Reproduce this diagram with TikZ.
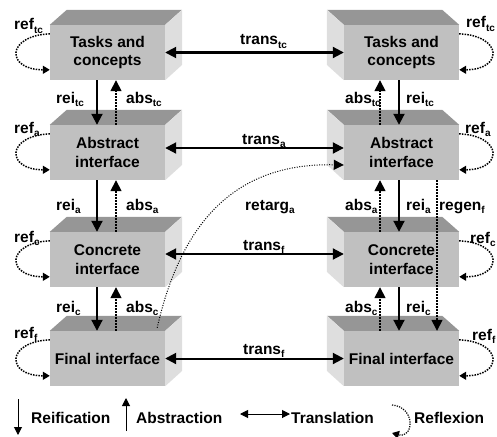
\documentclass[tikz,border=0pt]{standalone}
\usepackage{fontspec}
\setmainfont{Liberation Sans}
\usetikzlibrary{arrows.meta}
\definecolor{frontc}{HTML}{C0C0C0}
\definecolor{topc}{HTML}{969696}
\definecolor{sidec}{HTML}{DEDEDE}
\newcommand\lsub[1]{\raisebox{-3.5pt}{\fontsize{10}{10}\selectfont #1}}
\newcommand\lblock[4]{\node[face] (#1) at (#2,#3) {#4};
 \fill[topc] (#1.north west) -- ++(17pt,15pt) -- ++(115pt,0pt) -- (#1.north east) -- cycle;
 \fill[sidec] (#1.north east) -- ++(17pt,15pt) -- ++(0pt,-55pt) -- (#1.south east) -- cycle;}
\newcommand\rblock[4]{\node[face] (#1) at (#2,#3) {#4};
 \fill[topc] (#1.north east) -- ++(-17pt,15pt) -- ++(-115pt,0pt) -- (#1.north west) -- cycle;
 \fill[sidec] (#1.north west) -- ++(-17pt,15pt) -- ++(0pt,-55pt) -- (#1.south west) -- cycle;}
\begin{document}
\begin{tikzpicture}[x=1pt,y=-1pt,
  font=\fontsize{15.5}{18.5}\selectfont\bfseries,
  face/.style={fill=frontc, minimum width=115pt, minimum height=55pt, inner sep=0pt, align=center},
  lbl/.style={anchor=base west, inner sep=0pt},
  rei/.style={line width=2pt, -{Triangle[length=11pt,width=11pt]}},
  absr/.style={line width=1.5pt, dash pattern=on 1.5pt off 1.5pt, -{Triangle[length=11pt,width=11pt]}},
  tr/.style={line width=2pt, {Triangle[length=11pt,width=11pt]}-{Triangle[length=11pt,width=11pt]}},
  loopr/.style={line width=1.5pt, dash pattern=on 1.5pt off 1.2pt, -{Triangle[length=7pt,width=8pt]}},
  retarg/.style={line width=1pt, dash pattern=on 1pt off 1.5pt, -{Triangle[length=10pt,width=10pt]}},
  leg/.style={line width=1pt, -{Triangle[length=8pt,width=8pt]}},
  legd/.style={line width=1pt, {Triangle[length=8pt,width=8pt]}-{Triangle[length=8pt,width=8pt]}},
  legl/.style={line width=1.2pt, dash pattern=on 1.2pt off 1.2pt, -{Triangle[length=7pt,width=8pt]}}]
\useasboundingbox (0,0) rectangle (497,436);
% blocks
\lblock{L1}{107.5}{52.5}{Tasks and\\concepts}
\lblock{L2}{107.5}{152.5}{Abstract\\interface}
\lblock{L3}{107.5}{259.5}{Concrete\\interface}
\lblock{L4}{107.5}{358.5}{Final interface}
\rblock{R1}{401.5}{52.5}{Tasks and\\concepts}
\rblock{R2}{401.5}{152.5}{Abstract\\interface}
\rblock{R3}{401.5}{259.5}{Concrete\\interface}
\rblock{R4}{401.5}{358.5}{Final interface}
% left vertical arrows
\draw[rei] ([xshift=-10.5pt]L1.south) -- ([xshift=-10.5pt]L2.north);
\draw[absr] ([xshift=8.5pt]L2.north) -- ([xshift=8.5pt]L1.south);
\draw[rei] ([xshift=-10.5pt]L2.south) -- ([xshift=-10.5pt]L3.north);
\draw[absr] ([xshift=8.5pt]L3.north) -- ([xshift=8.5pt]L2.south);
\draw[rei] ([xshift=-10.5pt]L3.south) -- ([xshift=-10.5pt]L4.north);
\draw[absr] ([xshift=8.5pt]L4.north) -- ([xshift=8.5pt]L3.south);
% right vertical arrows
\draw[rei] ([xshift=-2.5pt]R1.south) -- ([xshift=-2.5pt]R2.north);
\draw[absr] ([xshift=-21.5pt]R2.north) -- ([xshift=-21.5pt]R1.south);
\draw[rei] ([xshift=-2.5pt]R2.south) -- ([xshift=-2.5pt]R3.north);
\draw[absr] ([xshift=-21.5pt]R3.north) -- ([xshift=-21.5pt]R2.south);
\draw[rei] ([xshift=-2.5pt]R3.south) -- ([xshift=-2.5pt]R4.north);
\draw[absr] ([xshift=-21.5pt]R4.north) -- ([xshift=-21.5pt]R3.south);
\draw[absr] ([xshift=35.5pt]R2.south) -- ([xshift=35.5pt]R4.north);
% horizontal arrows
\draw[tr] (L1.east) -- (R1.west);
\draw[tr] ([yshift=4.5pt]L2.east) -- ([yshift=4.5pt]R2.west);
\draw[tr] ([yshift=5.5pt]L3.east) -- ([yshift=5.5pt]R3.west);
\draw[tr] (L4.east) -- (R4.west);
% retargeting
\draw[retarg] ([xshift=-8pt,yshift=3pt]L4.north east) .. controls (185,205) and (250,163) .. ([yshift=-12.5pt]R2.west);
% reflexion loops
\foreach \n in {L1,L2,L3,L4}
  \draw[loopr] ([yshift=-9pt]\n.north west) .. controls +(-44pt,-2pt) and +(-44pt,0pt) .. ([yshift=-45pt]\n.north west);
\foreach \n in {R1,R2,R3,R4}
  \draw[loopr] ([yshift=-9pt]\n.north east) .. controls +(44pt,-2pt) and +(44pt,0pt) .. ([yshift=-45pt]\n.north east);
% labels left
\node[lbl] (t1) at (14,30) {ref\lsub{tc}};
\node[lbl] (t2) at (14,133) {ref\lsub{a}};
\node[lbl] (t3) at (14,242) {ref\lsub{c}};
\node[lbl] (t4) at (14,338) {ref\lsub{f}};
\node[lbl] (t5) at (56,103) {rei\lsub{tc}};
\node[lbl] (t6) at (126,103) {abs\lsub{tc}};
\node[lbl] (t7) at (56,210) {rei\lsub{a}};
\node[lbl] (t8) at (126,210) {abs\lsub{a}};
\node[lbl] (t9) at (56,312) {rei\lsub{c}};
\node[lbl] (t10) at (126,312) {abs\lsub{c}};
% labels right
\node[lbl] (u1) at (466,28) {ref\lsub{tc}};
\node[lbl] (u2) at (465,133) {ref\lsub{a}};
\node[lbl] (u3) at (470,243) {ref\lsub{c}};
\node[lbl] (u4) at (472,340) {ref\lsub{f}};
\node[lbl] (u5) at (345,103) {abs\lsub{tc}};
\node[lbl] (u6) at (406,103) {rei\lsub{tc}};
\node[lbl] (u7) at (345,210) {abs\lsub{a}};
\node[lbl] (u8) at (406,210) {rei\lsub{a}};
\node[lbl] (u9) at (439,210) {regen\lsub{f}};
\node[lbl] (u10) at (345,312) {abs\lsub{c}};
\node[lbl] (u11) at (406,312) {rei\lsub{c}};
% middle labels
\node[lbl] (m1) at (240,45) {trans\lsub{tc}};
\node[lbl] (m2) at (242,144) {trans\lsub{a}};
\node[lbl] (m3) at (245,210) {retarg\lsub{a}};
\node[lbl] (m4) at (243,250) {trans\lsub{f}};
\node[lbl] (m5) at (243,354) {trans\lsub{f}};
% legend
\coordinate (g1) at (18,399); \coordinate (g2) at (18,435);
\draw[leg] (g1) -- (g2);
\node[lbl] (gR) at (31,423) {Reification};
\coordinate (g3) at (126,431); \coordinate (g4) at (126,398);
\draw[leg] (g3) -- (g4);
\node[lbl] (gA) at (136,423) {Abstraction};
\coordinate (g5) at (240,414); \coordinate (g6) at (290,414);
\draw[legd] (g5) -- (g6);
\node[lbl] (gT) at (291,423) {Translation};
\coordinate (g7) at (392,405); \coordinate (g8) at (392,433);
\draw[legl] (g7) .. controls +(24pt,-2pt) and +(22pt,-6pt) .. (g8);
\node[lbl] (gX) at (414,423) {Reflexion};
\end{tikzpicture}
\end{document}
